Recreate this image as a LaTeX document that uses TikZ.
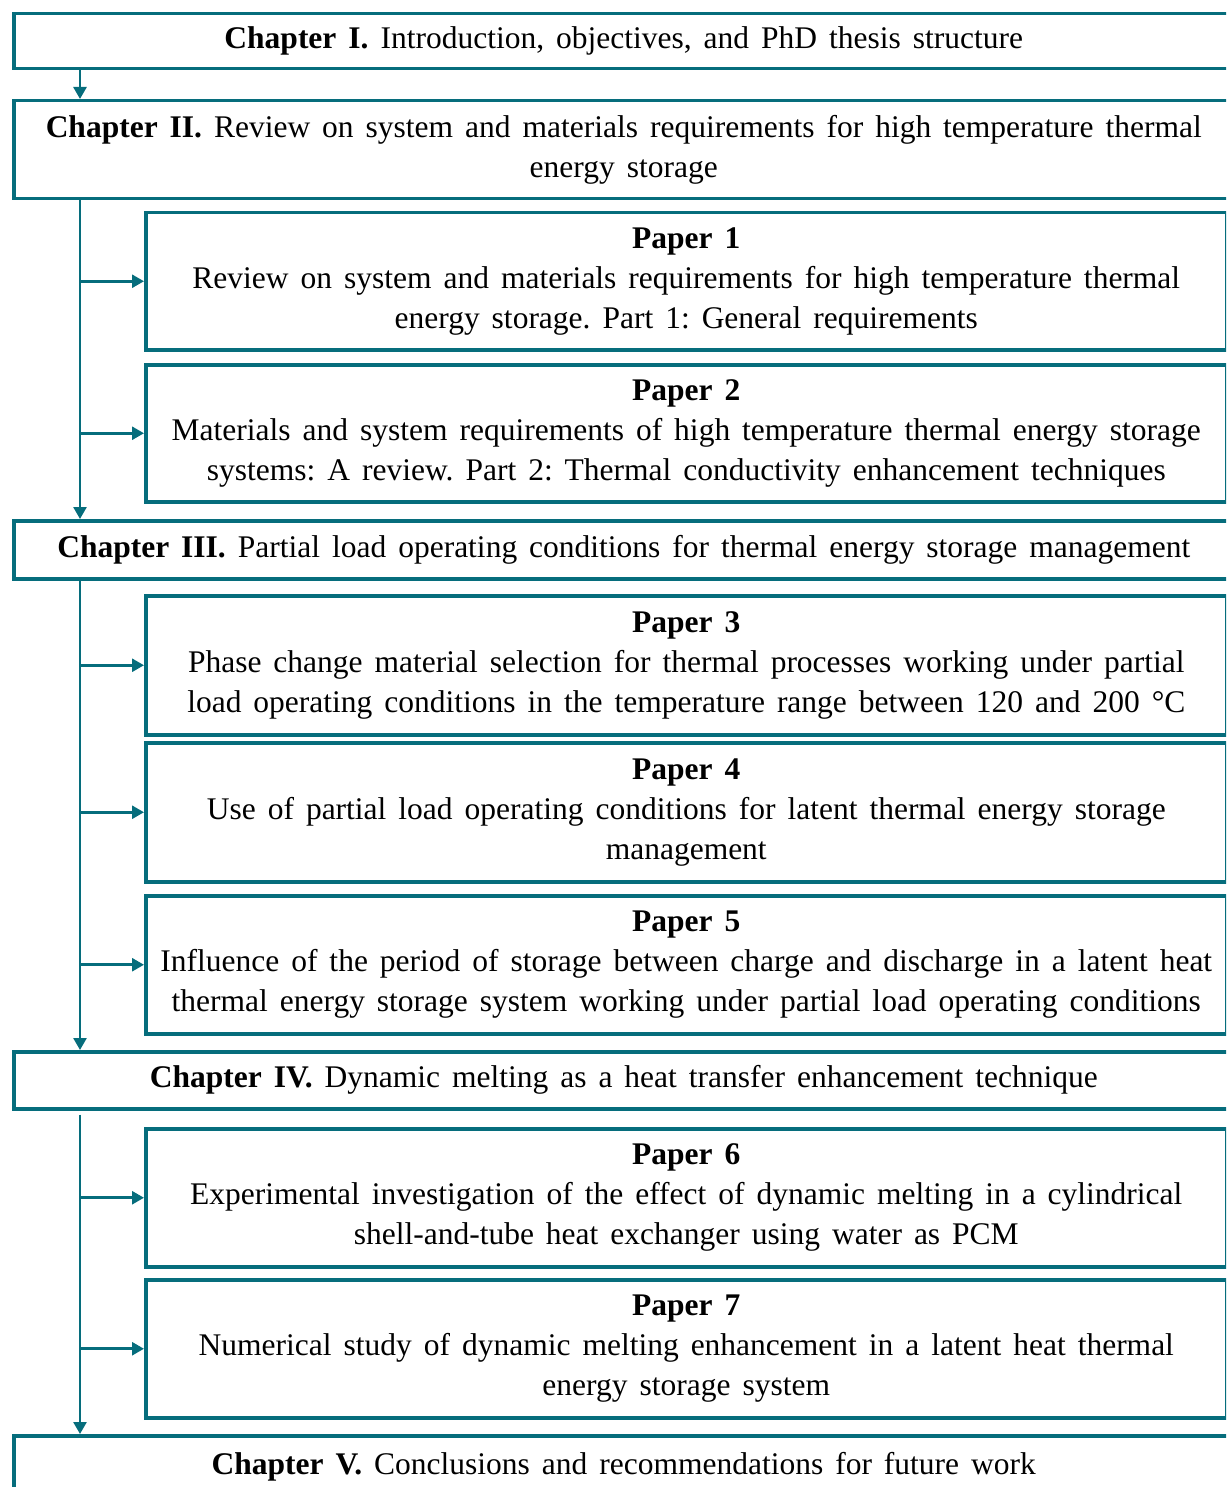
\documentclass[tikz,border=0pt]{standalone}
\usepackage{fontspec}
\setmainfont{Liberation Serif}
\usepackage{tikz}
\usepackage{xcolor}
\usetikzlibrary{positioning, arrows.meta, calc}
\definecolor{cTeal}{HTML}{066D7C}
\newcommand{\boxfont}{\fontsize{31.5}{40}\selectfont
  \spaceskip=0.38em\relax \xspaceskip=0.38em\relax}

\begin{document}
\begin{tikzpicture}[x=1pt, y=-1pt,
    chapbox/.style={draw=cTeal, line width=3.5pt, rectangle, anchor=north west,
      inner sep=0pt, align=center, minimum width=1220pt, font=\boxfont},
    paperbox/.style={chapbox, minimum width=1081pt},
    flow/.style={cTeal, line width=2.6pt, -{Triangle[width=13pt, length=12pt]}},
  ]
  \useasboundingbox (0, 0) rectangle (1226, 1487);
  \clip (0, 0) rectangle (1226, 1487);

  % chapters
  \node[chapbox, minimum height=55pt] (ch1) at (12, 12)
    {\textbf{Chapter I.} Introduction, objectives, and PhD thesis structure};
  \node[chapbox, minimum height=98pt] (ch2) at (12, 99)
    {\textbf{Chapter II.} Review on system and materials requirements for high temperature thermal\\
     energy storage};
  \node[chapbox, minimum height=58pt] (ch3) at (12, 519)
    {\textbf{Chapter III.} Partial load operating conditions for thermal energy storage management};
  \node[chapbox, minimum height=57pt] (ch4) at (12, 1050)
    {\textbf{Chapter IV.} Dynamic melting as a heat transfer enhancement technique};
  \node[chapbox, minimum height=62pt] (ch5) at (12, 1434)
    {\textbf{Chapter V.} Conclusions and recommendations for future work};

  % papers
  \node[paperbox, minimum height=137pt] (p1) at (144, 211)
    {\textbf{Paper 1}\\
     Review on system and materials requirements for high temperature thermal\\
     energy storage. Part 1: General requirements};
  \node[paperbox, minimum height=137pt] (p2) at (144, 363)
    {\textbf{Paper 2}\\
     Materials and system requirements of high temperature thermal energy storage\\
     systems: A review. Part 2: Thermal conductivity enhancement techniques};
  \node[paperbox, minimum height=139pt] (p3) at (144, 594)
    {\textbf{Paper 3}\\
     Phase change material selection for thermal processes working under partial\\
     load operating conditions in the temperature range between 120 and 200 °C};
  \node[paperbox, minimum height=139pt] (p4) at (144, 741)
    {\textbf{Paper 4}\\
     Use of partial load operating conditions for latent thermal energy storage\\
     management};
  \node[paperbox, minimum height=138pt] (p5) at (144, 894)
    {\textbf{Paper 5}\\
     Influence of the period of storage between charge and discharge in a latent heat\\
     thermal energy storage system working under partial load operating conditions};
  \node[paperbox, minimum height=138pt] (p6) at (144, 1127)
    {\textbf{Paper 6}\\
     Experimental investigation of the effect of dynamic melting in a cylindrical\\
     shell-and-tube heat exchanger using water as PCM};
  \node[paperbox, minimum height=138pt] (p7) at (144, 1278)
    {\textbf{Paper 7}\\
     Numerical study of dynamic melting enhancement in a latent heat thermal\\
     energy storage system};

  % spine and branches
  \coordinate (spine) at (80, 0);
  \draw[flow] (ch1.south -| spine) -- (ch2.north -| spine);
  \draw[flow] (ch2.south -| spine) -- (ch3.north -| spine);
  \draw[flow] (ch3.south -| spine) -- (ch4.north -| spine);
  \draw[flow] ($(ch4.south -| spine) + (0, 4)$) -- (ch5.north -| spine);
  \foreach \p in {p1, p2, p3, p4, p5, p6, p7}
    \draw[flow] (\p.west -| spine) -- (\p.west);
\end{tikzpicture}
\end{document}
